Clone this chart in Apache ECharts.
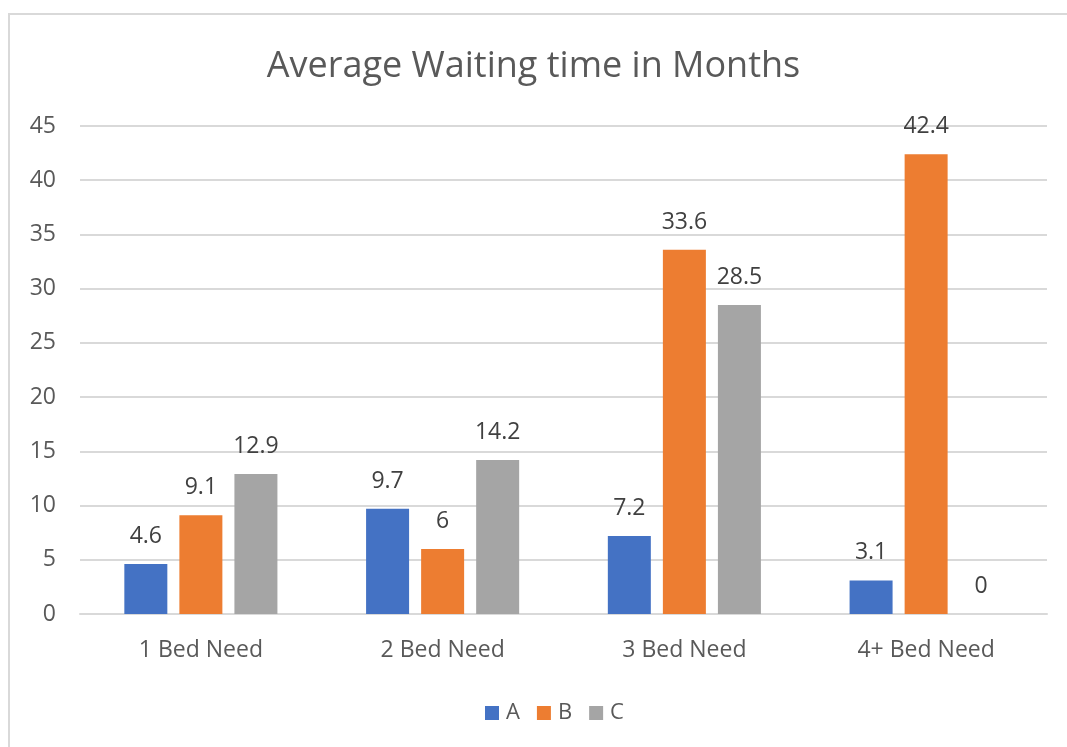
<!DOCTYPE html>
<html>
<head>
<meta charset="utf-8">
<script src="https://cdn.jsdelivr.net/npm/echarts@6/dist/echarts.min.js"></script>
<style>
html,body{margin:0;padding:0;background:#fff;}
#chart{width:1067px;height:747px;}
</style>
</head>
<body>
<div id="chart"></div>
<script>
const categories = ['1 Bed Need', '2 Bed Need', '3 Bed Need', '4+ Bed Need'];
const seriesA = [4.6, 9.7, 7.2, 3.1];
const seriesB = [9.1, 6, 33.6, 42.4];
const seriesC = [12.9, 14.2, 28.5, 0];
const seriesNames = ['A', 'B', 'C'];
const colors = ['#4472C4', '#ED7D31', '#A5A5A5'];
const font = '"Open Sans", "Noto Sans", sans-serif';

const chart = echarts.init(document.getElementById('chart'));
const dataSets = [seriesA, seriesB, seriesC];
chart.setOption({
  animation: false,
  color: colors,
  graphic: [{
    type: 'rect', left: 8, top: 13, z: -1,
    shape: {width: 1100, height: 800},
    style: {fill: '#fff', stroke: '#D9D9D9', lineWidth: 2}
  }],
  title: {
    text: 'Average Waiting time in Months',
    left: 'center', top: 44,
    textStyle: {fontFamily: font, fontSize: 36, fontWeight: 'normal', color: '#595959'}
  },
  legend: {
    bottom: 18, left: 480,
    itemWidth: 14, itemHeight: 14, itemGap: 17,
    icon: 'rect',
    textStyle: {fontFamily: font, fontSize: 22, color: '#595959', padding: [0, 0, 0, 2]},
    data: seriesNames
  },
  grid: {left: 80, right: 20, top: 126, bottom: 133},
  xAxis: {
    type: 'category', data: categories,
    axisLine: {lineStyle: {color: '#D9D9D9', width: 2}},
    axisTick: {show: false},
    axisLabel: {fontFamily: font, fontSize: 23, color: '#595959', margin: 25}
  },
  yAxis: {
    type: 'value', min: 0, max: 45, interval: 5,
    axisLine: {show: false}, axisTick: {show: false},
    splitLine: {lineStyle: {color: '#D9D9D9', width: 2}},
    axisLabel: {fontFamily: font, fontSize: 23, color: '#595959', margin: 24}
  },
  series: dataSets.map((d, i) => ({
    name: seriesNames[i], type: 'bar', data: d,
    barWidth: 43, barGap: '28%',
    label: {show: true, position: 'top', distance: 16, fontFamily: font, fontSize: 23, color: '#404040'}
  }))
});
</script>
</body>
</html>
